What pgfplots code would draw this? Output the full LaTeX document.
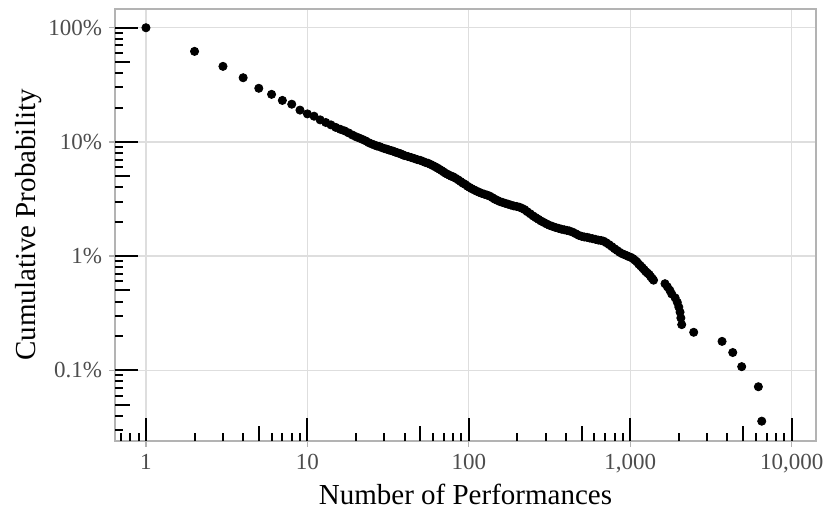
\documentclass[border=0pt]{standalone}
\usepackage{fontspec}
\setmainfont{Liberation Serif}
\usepackage{pgfplots}
\pgfplotsset{compat=1.18}
\usetikzlibrary{calc}
\definecolor{grey30}{HTML}{4D4D4D}
\definecolor{grey70}{HTML}{B3B3B3}
\definecolor{grey87}{HTML}{DEDEDE}

\begin{document}
\begin{tikzpicture}
% main panel: grid, border, outer ticks, labels, data
\begin{axis}[
    scale only axis, width=350.5pt, height=216pt,
    xmode=log, ymode=log,
    xmin=0.643, xmax=14160, ymin=0.024, ymax=146,
    xtick={1,10,100,1000,10000},
    ytick={0.1,1,10,100},
    tick pos=left,
    name=main,
    xticklabels={1,10,100,{1,000},{10,000}},
    yticklabels={0.1\%,1\%,10\%,100\%},
    tick align=outside,
    major tick length=3pt,
    major tick style={color=grey70, line width=0.7pt},
    minor tick style={draw=none},
    axis line style={color=grey70, line width=0.7pt},
    xmajorgrids, ymajorgrids,
    major grid style={color=grey87, line width=0.6pt},
    tick label style={font=\fontsize{11.5}{13}\selectfont, color=grey30},
    label style={font=\fontsize{14.5}{17}\selectfont, color=black},
    xlabel={Number of Performances},
    ylabel={Cumulative Probability},
    xlabel style={at={(axis description cs:0.5,-0.148)}, anchor=base},
    ylabel style={at={(axis description cs:-0.114,0.5)}, anchor=base},
]
\addplot[only marks, mark=*, mark size=2.05pt, black] coordinates {
(1,100) (2,62.1) (3,45.9) (4,36.5) (5,29.5) (6,26.1) (7,23.1) (8,21.4) (9,19.0) (10,17.6)
(11,16.8) (12,15.6) (13,14.8) (14,14.1) (15,13.4) (16,12.9) (17,12.5) (18,12.0) (19,11.5) (20,11.1)
(21,10.8) (22,10.5) (23,10.2) (24,9.85) (25,9.6) (26,9.4) (27,9.2) (28,9.1) (29,8.9) (30,8.75)
(31,8.65) (32,8.5) (33,8.4) (34,8.3) (35,8.15) (36,8.05) (37,7.95) (38,7.85) (39,7.7) (40,7.6)
(42,7.45) (44,7.3) (46,7.15) (48,7.0) (50,6.9) (52,6.75) (54,6.6) (56,6.5) (58,6.35) (60,6.2)
(62,6.05) (64,5.9) (66,5.75) (68,5.6) (70,5.45) (72,5.3) (74,5.2) (76,5.1) (78,5.0) (80,4.95)
(83,4.8) (86,4.65) (89,4.5) (92,4.35) (95,4.25) (98,4.1) (101,4.0)
(104,3.9) (108,3.8) (112,3.7) (116,3.62) (120,3.55) (125,3.48) (130,3.42) (135,3.35) (140,3.25)
(145,3.15) (150,3.08) (156,3.0) (162,2.95) (168,2.9) (175,2.85) (182,2.8) (190,2.75) (198,2.72)
(206,2.68) (214,2.62) (222,2.55) (230,2.45) (240,2.35) (250,2.25) (260,2.17) (270,2.1) (280,2.03)
(292,1.97) (304,1.91) (316,1.86) (330,1.82) (345,1.78) (360,1.75) (375,1.72) (390,1.70) (405,1.68)
(420,1.66) (440,1.62) (460,1.57) (480,1.52) (500,1.49) (520,1.47) (540,1.46) (560,1.44) (585,1.42)
(610,1.40) (635,1.38) (660,1.37) (685,1.35) (710,1.31) (740,1.26) (770,1.21) (800,1.16) (830,1.12)
(860,1.08) (890,1.05) (920,1.03) (950,1.01) (980,0.99) (1010,0.975) (1040,0.95) (1070,0.92)
(1100,0.89) (1130,0.85) (1160,0.82) (1190,0.79) (1220,0.76) (1250,0.73) (1280,0.71) (1310,0.69)
(1340,0.66) (1370,0.635) (1395,0.615)
(1643,0.573) (1700,0.538) (1760,0.502) (1808,0.466) (1900,0.430) (1958,0.394) (2000,0.358)
(2036,0.323) (2060,0.287) (2085,0.251) (2474,0.215) (3707,0.179) (4318,0.143) (4906,0.1075)
(6223,0.0717) (6530,0.0358)
};
\end{axis}
% log ticks drawn inside the panel
\begin{axis}[
    scale only axis, width=350.5pt, height=216pt,
    xmode=log, ymode=log,
    xmin=0.643, xmax=14160, ymin=0.024, ymax=146,
    xtick={1,10,100,1000,10000},
    ytick={0.1,1,10,100},
    tick pos=left,
    xticklabels={}, yticklabels={},
    axis line style={draw=none},
    tick align=inside,
    major tick length=11.5pt,
    minor tick length=4pt,
    major tick style={draw=black, line width=1pt},
    minor tick style={draw=black, line width=1pt},
    minor xtick={0.7,0.8,0.9,2,3,4,6,7,8,9,20,30,40,60,70,80,90,200,300,400,600,700,800,900,2000,3000,4000,6000,7000,8000,9000},
    minor ytick={0.03,0.04,0.06,0.07,0.08,0.09,0.2,0.3,0.4,0.6,0.7,0.8,0.9,2,3,4,6,7,8,9,20,30,40,60,70,80,90},
    extra x ticks={5,50,500,5000},
    extra y ticks={0.05,0.5,5,50},
    extra x tick labels={}, extra y tick labels={},
    extra tick style={major tick length=7.5pt},
]
\end{axis}
\pgfresetboundingbox
\path[use as bounding box] ($(main.south west)+(-57.5pt,-34pt)$) rectangle ($(main.north east)+(5pt,4.5pt)$);
\end{tikzpicture}
\end{document}
